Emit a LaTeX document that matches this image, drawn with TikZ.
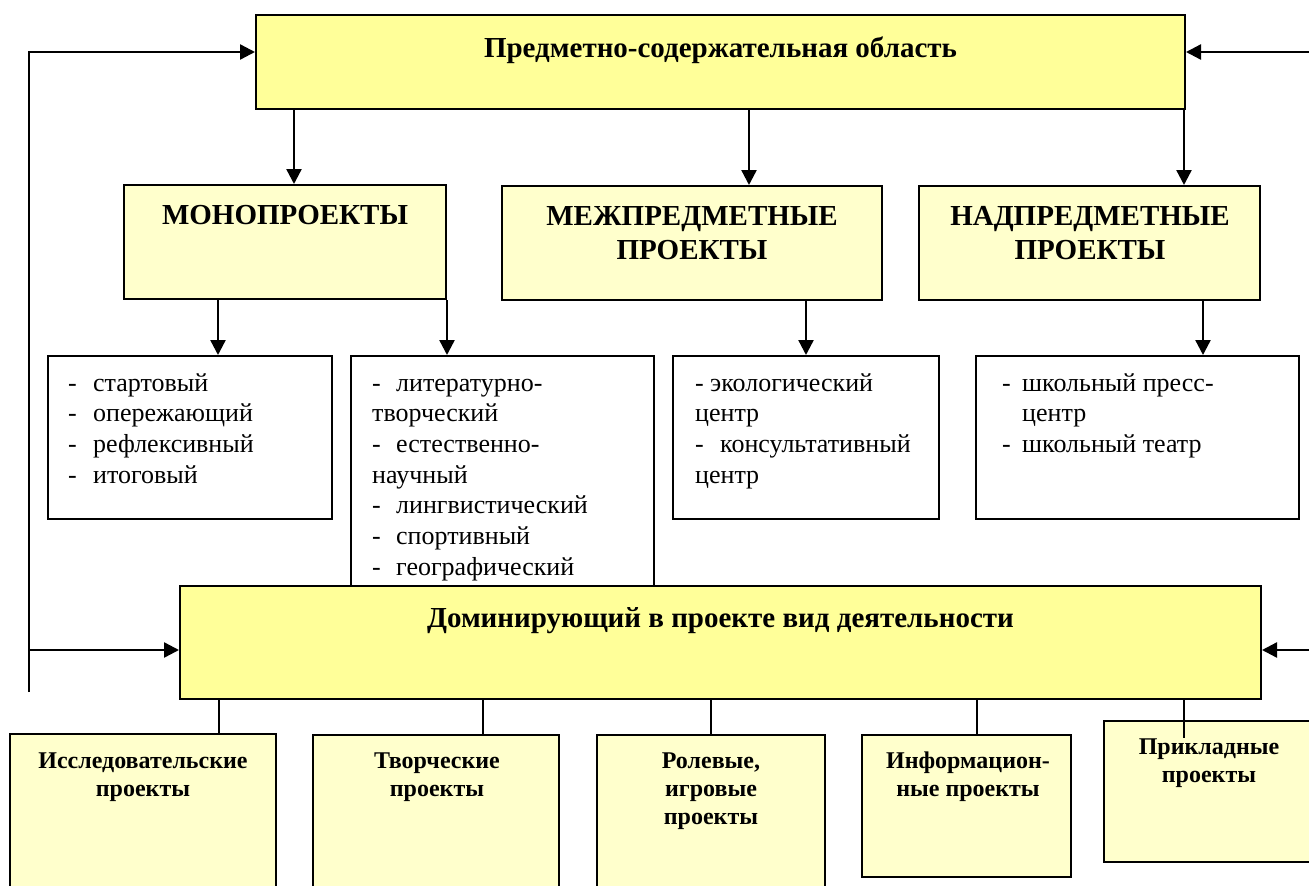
\documentclass[tikz,border=0pt]{standalone}
\usepackage{fontspec}
\setmainfont{Liberation Serif}
\usetikzlibrary{arrows.meta}
\definecolor{mainyellow}{RGB}{255,255,153}
\definecolor{paleyellow}{RGB}{255,255,204}
\newcommand{\itemdash}[1][24pt]{\makebox[#1][l]{-}}

\tikzset{
  mainbox/.style={draw, line width=2pt, fill=mainyellow, inner sep=0pt},
  kindbox/.style={draw, line width=2pt, fill=paleyellow, inner sep=0pt},
  listbox/.style={draw, line width=2pt, fill=white, inner sep=0pt},
  arr/.style={line width=2.4pt, line join=miter, -{Triangle[length=15pt,width=15pt]}},
  tick/.style={line width=1.8pt},
  head/.style={font=\fontsize{29}{34}\selectfont\bfseries, align=center, inner sep=0pt},
  small/.style={font=\fontsize{24}{28}\selectfont\bfseries, align=center, inner sep=0pt},
  items/.style={font=\fontsize{26}{30.7}\selectfont, align=left, anchor=north west, inner sep=0pt}
}

\begin{document}
\begin{tikzpicture}[x=1pt,y=-1pt]
\useasboundingbox (0,0) rectangle (1309,886);

\node[mainbox, minimum width=929pt, minimum height=94pt] (area) at (720.5,62) {};
\node[kindbox, minimum width=322pt, minimum height=114pt] (mono) at (285,242) {};
\node[kindbox, minimum width=380pt, minimum height=114pt] (mezh) at (692,243) {};
\node[kindbox, minimum width=341pt, minimum height=114pt] (nad) at (1089.5,243) {};

\node[listbox, minimum width=284pt, minimum height=163pt] (list1) at (190,437.5) {};
\node[listbox, minimum width=303pt, minimum height=244pt] (list2) at (502.5,478) {};
\node[listbox, minimum width=266pt, minimum height=163pt] (list3) at (806,437.5) {};
\node[listbox, minimum width=323pt, minimum height=163pt] (list4) at (1137.5,437.5) {};

\node[mainbox, minimum width=1081pt, minimum height=113pt] (dom) at (720.5,642.5) {};

\node[kindbox, minimum width=266pt, minimum height=180pt] (b1) at (143,824) {};
\node[kindbox, minimum width=246pt, minimum height=180pt] (b2) at (436,825) {};
\node[kindbox, minimum width=228pt, minimum height=180pt] (b3) at (711,825) {};
\node[kindbox, minimum width=209pt, minimum height=142pt] (b4) at (966.5,806) {};
\node[kindbox, minimum width=216pt, minimum height=141pt] (b5) at (1212,791.5) {};

\node[head] (areatext) at (720.5,50) {Предметно-содержательная область};
\node[head] (monotext) at (285,215) {МОНОПРОЕКТЫ};
\node[head] (mezhtext) at (692,233) {МЕЖПРЕДМЕТНЫЕ\\ПРОЕКТЫ};
\node[head] (nadtext) at (1090,233) {НАДПРЕДМЕТНЫЕ\\ПРОЕКТЫ};
\node[head] (domtext) at (720.5,621) {Доминирующий в проекте вид деятельности};

\node[items] (list1text) at (68,369.5) {\strut\itemdash[25pt]стартовый\\\itemdash[25pt]опережающий\\\itemdash[25pt]рефлексивный\\\itemdash[25pt]итоговый};
\node[items] (list2text) at (372,369.5) {\strut\itemdash литературно-\\творческий\\\itemdash естественно-\\научный\\\itemdash лингвистический\\\itemdash спортивный\\\itemdash географический};
\node[items] (list3text) at (695,369.5) {\strut\itemdash[15pt]экологический\\центр\\\itemdash[25pt]консультативный\\центр};
\node[items] (list4text) at (1002,369.5) {\strut\itemdash[20pt]школьный пресс-\\\hspace*{20pt}центр\\\itemdash[20pt]школьный театр};

\node[small] (b1text) at (143,777) {Исследовательские\\проекты};
\node[small] (b2text) at (437,777) {Творческие\\проекты};
\node[small] (b3text) at (711,791) {Ролевые,\\игровые\\проекты};
\node[small] (b4text) at (968,777) {Информацион-\\ные проекты};
\node[small] (b5text) at (1209,763) {Прикладные\\проекты};

\draw[arr] (area.south -| 294,0) -- (mono.north -| 294,0);
\draw[arr] (area.south -| 749,0) -- (mezh.north -| 749,0);
\draw[arr] (area.south -| 1184,0) -- (nad.north -| 1184,0);
\draw[arr] (mono.south -| 218,0) -- (list1.north -| 218,0);
\draw[arr] (mono.south east) -- (mono.south east |- list2.north);
\draw[arr] (mezh.south -| list3.north) -- (list3.north);
\draw[arr] (nad.south -| 1203,0) -- (list4.north -| 1203,0);

\coordinate (leftfoot) at (29,692);
\coordinate (lefttop) at (29,52);
\coordinate (leftmid) at (29,650);
\coordinate (righttop) at (1309,52);
\coordinate (rightmid) at (1309,650);
\draw[arr] (leftfoot) -- (lefttop) -- (lefttop -| area.west);
\draw[arr] (leftmid) -- (leftmid -| dom.west);
\draw[arr] (righttop) -- (righttop -| area.east);
\draw[arr] (rightmid) -- (rightmid -| dom.east);

\foreach \x/\b in {219/b1, 483/b2, 711/b3, 977/b4}
  \draw[tick] (dom.south -| \x,0) -- (\b.north -| \x,0);
\draw[tick] (dom.south -| 1184,0) -- ++(0,38);
\end{tikzpicture}
\end{document}
